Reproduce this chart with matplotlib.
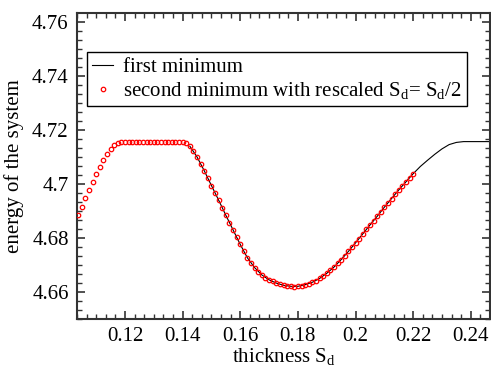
import matplotlib
matplotlib.use("Agg")
import matplotlib.pyplot as plt
from matplotlib.ticker import MultipleLocator

plt.rcParams['font.family'] = ['Liberation Serif', 'DejaVu Serif']
plt.rcParams['mathtext.fontset'] = 'custom'
plt.rcParams['mathtext.rm'] = 'Liberation Serif'
plt.rcParams['mathtext.it'] = 'Liberation Serif:italic'
plt.rcParams['mathtext.default'] = 'regular'

# second minimum (rescaled S_d -> S_d/2), red circles
sd_second = [0.10375, 0.10500, 0.10625, 0.10750, 0.10875, 0.11000, 0.11125, 0.11250,
             0.11375, 0.11500, 0.11625, 0.11750, 0.11875, 0.12000, 0.12125, 0.12250,
             0.12375, 0.12500, 0.12625, 0.12750, 0.12875, 0.13000, 0.13125, 0.13250,
             0.13375, 0.13500, 0.13625, 0.13750, 0.13875, 0.14000, 0.14125, 0.14250,
             0.14375, 0.14500, 0.14625, 0.14750, 0.14875, 0.15000, 0.15125, 0.15250,
             0.15375, 0.15500, 0.15625, 0.15750, 0.15875, 0.16000, 0.16125, 0.16250,
             0.16375, 0.16500, 0.16625, 0.16750, 0.16875, 0.17000, 0.17125, 0.17250,
             0.17375, 0.17500, 0.17625, 0.17750, 0.17875, 0.18000, 0.18125, 0.18250,
             0.18375, 0.18500, 0.18625, 0.18750, 0.18875, 0.19000, 0.19125, 0.19250,
             0.19375, 0.19500, 0.19625, 0.19750, 0.19875, 0.20000, 0.20125, 0.20250,
             0.20375, 0.20500, 0.20625, 0.20750, 0.20875, 0.21000, 0.21125, 0.21250,
             0.21375, 0.21500, 0.21625, 0.21750, 0.21875, 0.22000]
e_second = [4.6884, 4.6915, 4.6947, 4.6978, 4.7008, 4.7037, 4.7063, 4.7088,
            4.7110, 4.7129, 4.7144, 4.7153, 4.7156, 4.7157, 4.7157, 4.7157,
            4.7157, 4.7157, 4.7157, 4.7157, 4.7157, 4.7157, 4.7157, 4.7157,
            4.7157, 4.7157, 4.7157, 4.7157, 4.7157, 4.7157, 4.7152, 4.7140,
            4.7122, 4.7100, 4.7075, 4.7049, 4.7021, 4.6994, 4.6967, 4.6940,
            4.6912, 4.6884, 4.6857, 4.6830, 4.6803, 4.6776, 4.6750, 4.6726,
            4.6709, 4.6690, 4.6675, 4.6663, 4.6653, 4.6645, 4.6639, 4.6633,
            4.6628, 4.6625, 4.6623, 4.6621, 4.6620, 4.6621, 4.6623, 4.6627,
            4.6631, 4.6636, 4.6642, 4.6650, 4.6659, 4.6669, 4.6680, 4.6692,
            4.6706, 4.6720, 4.6734, 4.6750, 4.6766, 4.6782, 4.6798, 4.6815,
            4.6832, 4.6848, 4.6864, 4.6880, 4.6897, 4.6914, 4.6930, 4.6946,
            4.6962, 4.6978, 4.6993, 4.7008, 4.7023, 4.7038]

# first minimum, black line
sd_first = [0.1425, 0.1450, 0.1475, 0.1500, 0.1525, 0.1550, 0.1575, 0.1600,
            0.1625, 0.1650, 0.1675, 0.1700, 0.1725, 0.1750, 0.1775, 0.1800,
            0.1825, 0.1850, 0.1875, 0.1900, 0.1925, 0.1950, 0.1975, 0.2000,
            0.2025, 0.2050, 0.2075, 0.2100, 0.2125, 0.2150, 0.2175, 0.2200,
            0.2225, 0.2250, 0.2275, 0.2300, 0.2325, 0.2350, 0.2375, 0.2400,
            0.2425, 0.2450, 0.2475]
e_first = [4.7140, 4.7100, 4.7049, 4.6994, 4.6940, 4.6884, 4.6830, 4.6776,
           4.6726, 4.6690, 4.6663, 4.6645, 4.6633, 4.6625, 4.6621, 4.6621,
           4.6627, 4.6636, 4.6650, 4.6669, 4.6692, 4.6720, 4.6750, 4.6782,
           4.6815, 4.6848, 4.6880, 4.6914, 4.6946, 4.6978, 4.7008, 4.7038,
           4.7065, 4.7088, 4.7110, 4.7130, 4.7146, 4.7154, 4.7157, 4.7157,
           4.7157, 4.7157, 4.7157]

x_ticks = [0.12, 0.14, 0.16, 0.18, 0.2, 0.22, 0.24]
x_ticklabels = ['0.12', '0.14', '0.16', '0.18', '0.2', '0.22', '0.24']
y_ticks = [4.66, 4.68, 4.7, 4.72, 4.74, 4.76]
y_ticklabels = ['4.66', '4.68', '4.7', '4.72', '4.74', '4.76']

FS = 15

fig = plt.figure(figsize=(4.91, 3.67), dpi=100)
ax = fig.add_axes([77/491, 1-319/367, 413/491, 306/367])

ax.plot(sd_first, e_first, color='black', lw=0.8, label='first minimum', zorder=2)
ax.plot(sd_second, e_second, ls='none', marker='o', ms=3.2, mfc='none', mec='red',
        mew=0.9, label=r'second minimum with rescaled S$_{d}$= S$_{d}$/2', zorder=3)

ax.set_xlim(0.10333, 0.24667)
ax.set_ylim(4.65, 4.76333)
ax.set_xticks(x_ticks)
ax.set_xticklabels(x_ticklabels)
ax.set_yticks(y_ticks)
ax.set_yticklabels(y_ticklabels)
ax.xaxis.set_minor_locator(MultipleLocator(0.02/6))
ax.yaxis.set_minor_locator(MultipleLocator(0.02/6))
ax.tick_params(which='both', direction='in', top=True, right=True, labelsize=FS,
               color='#333333')
ax.tick_params(which='major', length=6, width=1.2, pad=6)
ax.tick_params(which='minor', length=3.5, width=1.0)
for s in ax.spines.values():
    s.set_linewidth(1.5)
    s.set_color('#333333')

ax.set_xlabel(r'thickness S$_{d}$', fontsize=FS, labelpad=0)
ax.set_ylabel('energy of the system', fontsize=FS, labelpad=6)

leg = ax.legend(loc='upper left', bbox_to_anchor=(0.024, 0.872), borderaxespad=0,
                fontsize=FS, frameon=True, fancybox=False, edgecolor='black',
                handlelength=1.0, handletextpad=0.5, borderpad=0.25,
                labelspacing=0.15, framealpha=1)
leg.get_frame().set_linewidth(1.0)

fig.savefig('out.png', dpi=100)
